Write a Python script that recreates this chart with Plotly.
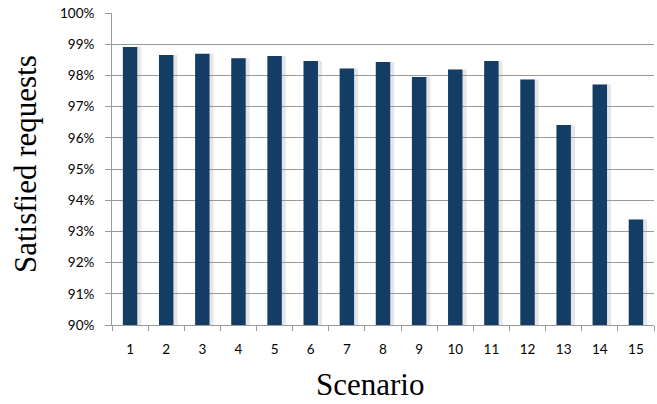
import plotly.graph_objects as go

scenarios = [str(i) for i in range(1, 16)]
satisfied = [98.91, 98.65, 98.69, 98.55, 98.62, 98.46, 98.22, 98.43,
             97.95, 98.19, 98.46, 97.87, 96.41, 97.71, 93.38]
y_ticks = list(range(90, 101))

fig = go.Figure()
# soft drop shadow behind each bar
fig.add_trace(go.Bar(
    x=scenarios, y=satisfied,
    marker=dict(color="rgba(140,140,140,0.22)", line=dict(width=0)),
    width=0.5, offset=-0.19, hoverinfo="skip",
))
fig.add_trace(go.Bar(
    x=scenarios, y=satisfied,
    marker=dict(color="#143D66", line=dict(width=0)),
    width=0.4, offset=-0.2,
))

fig.update_layout(
    width=657, height=404,
    margin=dict(l=112, r=3, t=13, b=79),
    paper_bgcolor="white", plot_bgcolor="white",
    showlegend=False,
    barmode="overlay",
    font=dict(family="Lato", color="#000000"),
    annotations=[
        dict(text="Scenario", xref="paper", yref="paper", x=0.476, y=-0.252,
             xanchor="center", yanchor="bottom", showarrow=False,
             font=dict(family="Liberation Serif", size=31, color="#000000")),
        dict(text="Satisfied requests", xref="paper", yref="paper", x=-0.1605, y=0.516,
             xanchor="center", yanchor="middle", showarrow=False, textangle=-90,
             font=dict(family="Liberation Serif", size=31, color="#000000")),
    ],
)
fig.update_xaxes(
    type="category",
    tickson="boundaries",
    ticks="outside", ticklen=5, tickcolor="#9a9a9a", tickwidth=1,
    showline=True, linecolor="#9a9a9a", linewidth=1,
    showgrid=False,
    tickfont=dict(size=13.5, family="Lato"),
    ticklabelstandoff=12,
)
fig.update_yaxes(
    range=[90, 100],
    tickvals=y_ticks,
    ticktext=[f"{v}%" for v in y_ticks],
    ticks="outside", ticklen=6, tickcolor="#9a9a9a", tickwidth=1,
    showline=True, linecolor="#9a9a9a", linewidth=1,
    showgrid=True, gridcolor="#9a9a9a", gridwidth=1,
    zeroline=False,
    tickfont=dict(size=13.5, family="Lato"),
    ticklabelstandoff=8,
)

fig.write_html("out.html", config={"displayModeBar": False},
               post_script="document.body.style.margin='0';")
